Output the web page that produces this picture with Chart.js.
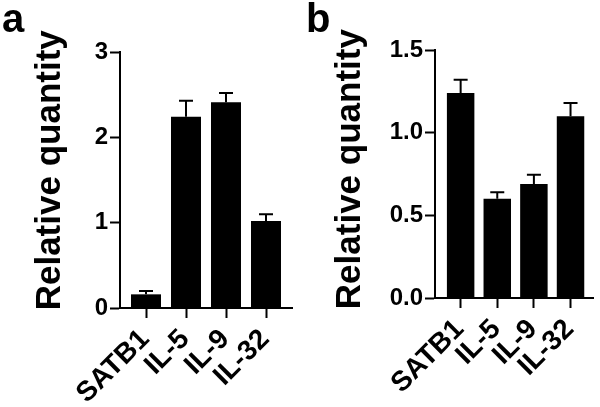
<!DOCTYPE html>
<html>
<head>
<meta charset="utf-8">
<script src="https://cdn.jsdelivr.net/npm/chart.js@4"></script>
<style>
  html, body { margin: 0; padding: 0; background: #fff; }
  #wrap { position: relative; width: 600px; height: 407px; overflow: hidden; }
  canvas { position: absolute; top: 0; }
  .panel { position: absolute; font: bold 40px "Liberation Sans", Arial, sans-serif; color: #000; line-height: 1; }
</style>
</head>
<body>
<div id="wrap">
  <canvas id="chart-a" width="300" height="407" style="left:0"></canvas>
  <canvas id="chart-b" width="300" height="407" style="left:300px"></canvas>
  <div class="panel" style="left:2px; top:-2px">a</div>
  <div class="panel" style="left:306px; top:-2px">b</div>
</div>
<script>
// categories on the x axis (same in both panels)
const categories = ['SATB1', 'IL-5', 'IL-9', 'IL-32'];

// panel a: mean and upper error (SEM)
const valuesA = [0.16, 2.24, 2.41, 1.02];
const errorsA = [0.04, 0.19, 0.11, 0.08];
const yTicksA = [0, 1, 2, 3];

// panel b
const valuesB = [1.24, 0.60, 0.69, 1.10];
const errorsB = [0.08, 0.04, 0.055, 0.08];
const yTicksB = [0, 0.5, 1.0, 1.5];

const FONT = '"Liberation Sans", Arial, sans-serif';

// draws the one-sided error bars with a cap
const errorBars = {
    id: 'errorBars',
    afterDatasetsDraw(chart, args, opts) {
        const ctx = chart.ctx;
        const y = chart.scales.y;
        const meta = chart.getDatasetMeta(0);
        ctx.save();
        ctx.strokeStyle = '#000';
        ctx.lineWidth = 2;
        meta.data.forEach((bar, i) => {
            const top = y.getPixelForValue(opts.values[i] + opts.errors[i]);
            ctx.beginPath();
            ctx.moveTo(bar.x, bar.y);
            ctx.lineTo(bar.x, top);
            ctx.moveTo(bar.x - 7, top);
            ctx.lineTo(bar.x + 7, top);
            ctx.stroke();
        });
        ctx.restore();
    }
};

function makeChart(id, values, errors, yTicks, box) {
    const ctx = document.getElementById(id).getContext('2d');
    return new Chart(ctx, {
        type: 'bar',
        data: {
            datasets: [{
                data: values.map((v, i) => ({ x: i, y: v })),
                backgroundColor: '#000',
                borderWidth: 0,
                barPercentage: 0.75,
                categoryPercentage: 1
            }]
        },
        options: {
            responsive: false,
            animation: false,
            devicePixelRatio: 1,
            layout: { padding: { top: box.top, right: box.right, left: 0, bottom: 0 } },
            plugins: {
                legend: { display: false },
                tooltip: { enabled: false },
                errorBars: { values: values, errors: errors }
            },
            scales: {
                x: {
                    type: 'linear',
                    offset: false,
                    min: box.xMin,
                    max: box.xMax,
                    afterBuildTicks: (scale) => { scale.ticks = categories.map((_, i) => ({ value: i })); },
                    afterFit: (scale) => { scale.height = box.xHeight; },
                    grid: { offset: false, drawOnChartArea: false, drawTicks: true, tickLength: 10, tickWidth: 2, color: '#000' },
                    border: { display: true, color: '#000', width: 2 },
                    ticks: {
                        autoSkip: false,
                        minRotation: 45,
                        maxRotation: 45,
                        padding: 5,
                        labelOffset: -1,
                        color: '#000',
                        font: { family: FONT, size: 28, weight: 'bold' },
                        callback: (v) => categories[v]
                    }
                },
                y: {
                    min: yTicks[0],
                    max: yTicks[yTicks.length - 1],
                    afterBuildTicks: (scale) => { scale.ticks = yTicks.map(v => ({ value: v })); },
                    afterFit: (scale) => { scale.width = box.yWidth; },
                    grid: { drawOnChartArea: false, drawTicks: true, tickLength: 10, tickWidth: 2, color: '#000' },
                    border: { display: true, color: '#000', width: 2 },
                    ticks: {
                        padding: 2,
                        color: '#000',
                        font: { family: FONT, size: 24, weight: 'bold' },
                        callback: (v) => box.decimals ? v.toFixed(box.decimals) : String(v)
                    },
                    title: {
                        display: true,
                        text: box.titleLead + 'Relative quantity',
                        color: '#000',
                        padding: { top: 29, bottom: 0 },
                        font: { family: FONT, size: 35, weight: 'bold' }
                    }
                }
            }
        },
        plugins: [errorBars]
    });
}

makeChart('chart-a', valuesA, errorsA, yTicksA,
    { top: 52, right: 8, xHeight: 99, yWidth: 120, xMin: -0.65, xMax: 3.65, decimals: 0, titleLead: '  ' });
makeChart('chart-b', valuesB, errorsB, yTicksB,
    { top: 50, right: 5, xHeight: 109, yWidth: 135, xMin: -0.70, xMax: 3.62, decimals: 1, titleLead: ' ' });
</script>
</body>
</html>
